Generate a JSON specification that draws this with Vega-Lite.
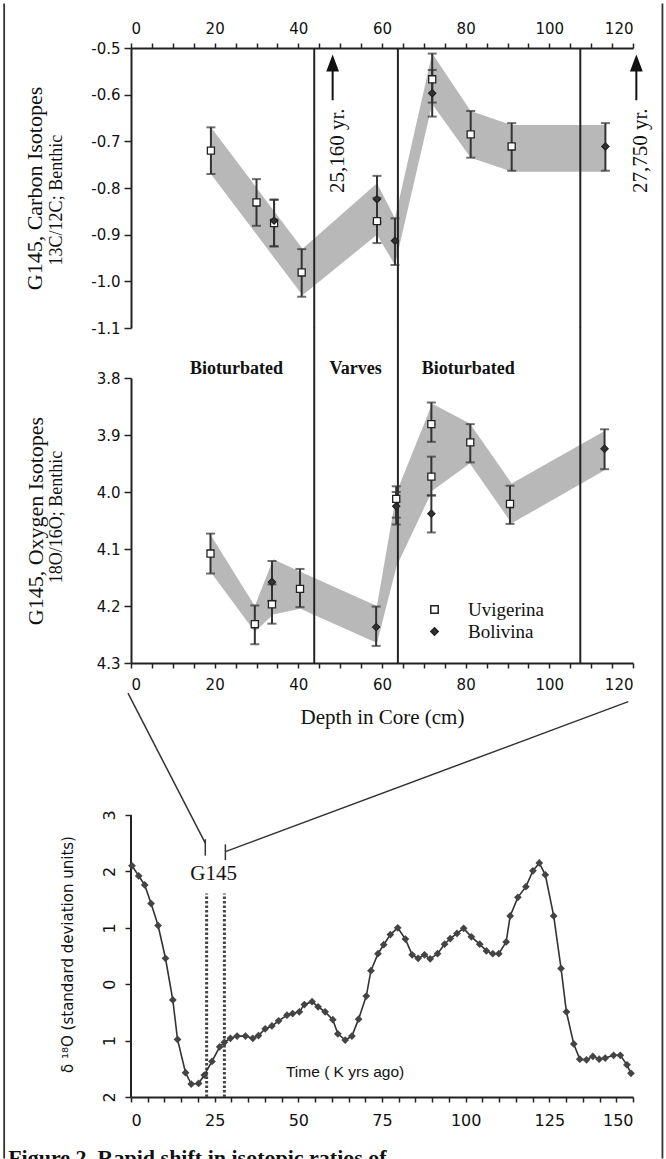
{
  "$schema": "https://vega.github.io/schema/vega-lite/v6.json",
  "padding": {"left": 3, "top": 2, "right": 0, "bottom": 0},
  "background": "white",
  "bounds": "flush",
  "spacing": 50,
  "resolve": {"legend": {"shape": "independent", "fill": "independent"}},
  "config": {
    "view": {"stroke": null},
    "axis": {"domainColor": "#222", "domainWidth": 2, "tickColor": "#222", "tickWidth": 1.5, "labelFont": "DejaVu Sans", "labelFontSize": 15, "labelColor": "#111", "titleFont": "Liberation Serif", "titleColor": "#111", "titleFontWeight": "normal", "grid": false},
    "text": {"color": "#111"}
  },
  "datasets": {
    "carbon": [
      {"d": 19.1, "v": -0.72, "lo": -0.77, "hi": -0.67, "sp": "Uvigerina"},
      {"d": 30.0, "v": -0.831, "lo": -0.881, "hi": -0.781, "sp": "Uvigerina"},
      {"d": 34.2, "v": -0.875, "lo": -0.925, "hi": -0.825, "sp": "Uvigerina"},
      {"d": 34.2, "v": -0.87, "lo": -0.925, "hi": -0.825, "sp": "Bolivina"},
      {"d": 40.8, "v": -0.981, "lo": -1.033, "hi": -0.931, "sp": "Uvigerina"},
      {"d": 58.8, "v": -0.824, "lo": -0.874, "hi": -0.774, "sp": "Bolivina"},
      {"d": 58.8, "v": -0.871, "lo": -0.918, "hi": -0.821, "sp": "Uvigerina"},
      {"d": 63.1, "v": -0.913, "lo": -0.965, "hi": -0.865, "sp": "Bolivina"},
      {"d": 72.0, "v": -0.567, "lo": -0.617, "hi": -0.512, "sp": "Uvigerina"},
      {"d": 72.0, "v": -0.597, "lo": -0.647, "hi": -0.547, "sp": "Bolivina"},
      {"d": 81.2, "v": -0.685, "lo": -0.735, "hi": -0.635, "sp": "Uvigerina"},
      {"d": 91.0, "v": -0.711, "lo": -0.763, "hi": -0.661, "sp": "Uvigerina"},
      {"d": 113.4, "v": -0.711, "lo": -0.763, "hi": -0.661, "sp": "Bolivina"}
    ],
    "cband": [
      {"d": 19.1, "top": -0.67, "bot": -0.77},
      {"d": 41.0, "top": -0.93, "bot": -1.03},
      {"d": 58.8, "top": -0.79, "bot": -0.9},
      {"d": 63.1, "top": -0.865, "bot": -0.965},
      {"d": 72.0, "top": -0.512, "bot": -0.62},
      {"d": 81.2, "top": -0.635, "bot": -0.735},
      {"d": 91.0, "top": -0.665, "bot": -0.765},
      {"d": 113.4, "top": -0.665, "bot": -0.765}
    ],
    "oxygen": [
      {"d": 19.0, "v": 4.108, "lo": 4.073, "hi": 4.143, "sp": "Uvigerina"},
      {"d": 29.6, "v": 4.232, "lo": 4.199, "hi": 4.267, "sp": "Uvigerina"},
      {"d": 33.7, "v": 4.158, "lo": 4.121, "hi": 4.191, "sp": "Bolivina"},
      {"d": 33.7, "v": 4.197, "lo": 4.162, "hi": 4.231, "sp": "Uvigerina"},
      {"d": 40.4, "v": 4.17, "lo": 4.135, "hi": 4.202, "sp": "Uvigerina"},
      {"d": 58.6, "v": 4.237, "lo": 4.201, "hi": 4.27, "sp": "Bolivina"},
      {"d": 63.4, "v": 4.012, "lo": 3.99, "hi": 4.045, "sp": "Uvigerina"},
      {"d": 63.4, "v": 4.025, "lo": 4.0, "hi": 4.057, "sp": "Bolivina"},
      {"d": 71.8, "v": 3.881, "lo": 3.843, "hi": 3.912, "sp": "Uvigerina"},
      {"d": 71.8, "v": 3.973, "lo": 3.938, "hi": 4.006, "sp": "Uvigerina"},
      {"d": 71.8, "v": 4.038, "lo": 4.006, "hi": 4.071, "sp": "Bolivina"},
      {"d": 81.1, "v": 3.913, "lo": 3.881, "hi": 3.948, "sp": "Uvigerina"},
      {"d": 90.6, "v": 4.021, "lo": 3.989, "hi": 4.056, "sp": "Uvigerina"},
      {"d": 113.2, "v": 3.924, "lo": 3.89, "hi": 3.96, "sp": "Bolivina"}
    ],
    "oband": [
      {"d": 19.0, "top": 4.075, "bot": 4.14},
      {"d": 29.6, "top": 4.2, "bot": 4.245},
      {"d": 34.0, "top": 4.118, "bot": 4.215},
      {"d": 40.5, "top": 4.14, "bot": 4.205},
      {"d": 58.8, "top": 4.2, "bot": 4.265},
      {"d": 63.5, "top": 4.0, "bot": 4.13},
      {"d": 72.0, "top": 3.845, "bot": 3.998},
      {"d": 81.0, "top": 3.88, "bot": 3.95},
      {"d": 91.0, "top": 3.985, "bot": 4.055},
      {"d": 113.2, "top": 3.893, "bot": 3.962}
    ],
    "seps": [{"d": 43.8}, {"d": 63.8}, {"d": 107.4}],
    "arrows": [
      {"d": 48.2, "y1": -0.612, "y2": -0.545, "yh": -0.532, "lab": "25,160 yr.", "dl": 49.4, "yl": -0.72},
      {"d": 120.8, "y1": -0.612, "y2": -0.545, "yh": -0.532, "lab": "27,750 yr.", "dl": 121.9, "yl": -0.72}
    ],
    "zones": [
      {"d": 25.2, "v": 3.784, "lab": "Bioturbated"},
      {"d": 53.7, "v": 3.784, "lab": "Varves"},
      {"d": 80.6, "v": 3.784, "lab": "Bioturbated"}
    ],
    "curve": [
      {"t": 0.3, "v": 2.1}, {"t": 2.3, "v": 1.92}, {"t": 4.1, "v": 1.76}, {"t": 6.0, "v": 1.43},
      {"t": 8.1, "v": 1.04}, {"t": 10.3, "v": 0.46}, {"t": 12.5, "v": -0.28}, {"t": 13.9, "v": -0.98},
      {"t": 16.3, "v": -1.57}, {"t": 18.0, "v": -1.77}, {"t": 20.2, "v": -1.76}, {"t": 21.9, "v": -1.61},
      {"t": 24.2, "v": -1.37}, {"t": 26.5, "v": -1.11}, {"t": 27.9, "v": -1.03}, {"t": 29.7, "v": -0.96},
      {"t": 31.7, "v": -0.92}, {"t": 34.2, "v": -0.92}, {"t": 36.4, "v": -0.96}, {"t": 38.1, "v": -0.91},
      {"t": 40.1, "v": -0.79}, {"t": 42.1, "v": -0.74}, {"t": 44.1, "v": -0.65}, {"t": 46.6, "v": -0.55},
      {"t": 48.3, "v": -0.52}, {"t": 50.3, "v": -0.49}, {"t": 51.8, "v": -0.36}, {"t": 54.1, "v": -0.31},
      {"t": 55.9, "v": -0.4}, {"t": 58.0, "v": -0.49}, {"t": 60.3, "v": -0.63}, {"t": 61.8, "v": -0.88},
      {"t": 64.0, "v": -0.99}, {"t": 66.0, "v": -0.92}, {"t": 68.0, "v": -0.62}, {"t": 70.3, "v": -0.21},
      {"t": 71.7, "v": 0.24}, {"t": 73.8, "v": 0.54}, {"t": 75.5, "v": 0.7}, {"t": 77.5, "v": 0.88},
      {"t": 79.7, "v": 1.0}, {"t": 82.0, "v": 0.8}, {"t": 84.0, "v": 0.52}, {"t": 85.8, "v": 0.46},
      {"t": 87.7, "v": 0.52}, {"t": 89.4, "v": 0.45}, {"t": 91.6, "v": 0.54}, {"t": 93.7, "v": 0.71},
      {"t": 95.4, "v": 0.81}, {"t": 97.4, "v": 0.9}, {"t": 99.4, "v": 0.99}, {"t": 101.7, "v": 0.84},
      {"t": 104.2, "v": 0.71}, {"t": 106.2, "v": 0.59}, {"t": 108.1, "v": 0.54}, {"t": 109.9, "v": 0.54},
      {"t": 112.1, "v": 0.75}, {"t": 113.3, "v": 1.21}, {"t": 115.6, "v": 1.54}, {"t": 118.0, "v": 1.73},
      {"t": 120.1, "v": 2.01}, {"t": 122.0, "v": 2.15}, {"t": 123.8, "v": 1.94}, {"t": 126.3, "v": 1.21},
      {"t": 128.5, "v": 0.28}, {"t": 130.1, "v": -0.49}, {"t": 132.3, "v": -1.06}, {"t": 134.1, "v": -1.33},
      {"t": 136.1, "v": -1.34}, {"t": 138.0, "v": -1.28}, {"t": 139.9, "v": -1.33}, {"t": 141.7, "v": -1.31},
      {"t": 144.2, "v": -1.26}, {"t": 146.2, "v": -1.26}, {"t": 148.2, "v": -1.43}, {"t": 149.4, "v": -1.58}
    ],
    "dots": [{"t": 22.6}, {"t": 27.9}],
    "conn": [
      {"id": "L", "o": 0, "t": -0.9, "v": 5.16},
      {"id": "L", "o": 1, "t": 22.2, "v": 2.5},
      {"id": "R", "o": 0, "t": 148.6, "v": 5.01},
      {"id": "R", "o": 1, "t": 28.2, "v": 2.35}
    ],
    "connticks": [
      {"t": 22.2, "v1": 2.57, "v2": 2.28},
      {"t": 28.2, "v1": 2.48, "v2": 2.2}
    ],
    "frameV": [{"t": -37.9}, {"t": 158.8}],
    "frameH": [{"v": 17.39}, {"v": -2.851}]
  },
  "vconcat": [
    {
      "width": 502,
      "height": 280,
      "encoding": {
        "x": {"field": "d", "type": "quantitative",
          "scale": {"domain": [0, 120], "nice": false, "zero": false},
          "axis": {"orient": "top", "title": null, "values": [0,5,10,15,20,25,30,35,40,45,50,55,60,65,70,75,80,85,90,95,100,105,110,115,120],
            "labelExpr": "datum.value % 20 === 0 ? datum.label : ''", "tickSize": 5, "labelPadding": 7}}
      },
      "layer": [
        {
          "data": {"name": "cband"},
          "mark": {"type": "area", "color": "#888888", "opacity": 0.6},
          "encoding": {
            "y": {"field": "top", "type": "quantitative",
              "scale": {"domain": [-1.1, -0.5], "nice": false, "zero": false},
              "axis": {"title": "G145, Carbon Isotopes", "titleFontSize": 22, "titlePadding": 44,
                "values": [-1.1,-1.05,-1,-0.95,-0.9,-0.85,-0.8,-0.75,-0.7,-0.65,-0.6,-0.55,-0.5],
                "labelExpr": "round(abs(datum.value)*100) % 10 === 0 ? '-' + format(abs(datum.value), '.1f') : ''",
                "tickSize": 7, "labelPadding": 4}},
            "y2": {"field": "bot"}
          }
        },
        {
          "data": {"name": "seps"},
          "mark": {"type": "rule", "color": "#222", "strokeWidth": 2},
          "encoding": {}
        },
        {
          "data": {"name": "carbon"},
          "mark": {"type": "rule", "color": "#333", "strokeWidth": 2},
          "encoding": {"y": {"field": "lo", "type": "quantitative"}, "y2": {"field": "hi"}}
        },
        {
          "data": {"name": "carbon"},
          "mark": {"type": "tick", "orient": "horizontal", "color": "#333", "size": 9, "thickness": 2},
          "encoding": {"y": {"field": "lo", "type": "quantitative"}}
        },
        {
          "data": {"name": "carbon"},
          "mark": {"type": "tick", "orient": "horizontal", "color": "#333", "size": 9, "thickness": 2},
          "encoding": {"y": {"field": "hi", "type": "quantitative"}}
        },
        {
          "data": {"name": "carbon"},
          "mark": {"type": "point", "filled": true, "stroke": "#222", "strokeWidth": 1.3, "size": 50, "opacity": 1},
          "encoding": {
            "y": {"field": "v", "type": "quantitative"},
            "shape": {"field": "sp", "type": "nominal", "scale": {"domain": ["Uvigerina", "Bolivina"], "range": ["square", "diamond"]}, "legend": null},
            "fill": {"field": "sp", "type": "nominal", "scale": {"domain": ["Uvigerina", "Bolivina"], "range": ["#ffffff", "#333333"]}, "legend": null}
          }
        },
        {
          "data": {"name": "arrows"},
          "mark": {"type": "rule", "color": "#111", "strokeWidth": 2},
          "encoding": {"y": {"field": "y1", "type": "quantitative"}, "y2": {"field": "y2"}}
        },
        {
          "data": {"name": "arrows"},
          "mark": {"type": "point", "shape": "M-0.75,1L0,-1L0.75,1Z", "filled": true, "color": "#111", "size": 290, "opacity": 1},
          "encoding": {"y": {"field": "yh", "type": "quantitative"}}
        },
        {
          "data": {"name": "arrows"},
          "mark": {"type": "text", "angle": 270, "align": "center", "baseline": "middle", "font": "Liberation Serif", "fontSize": 21},
          "encoding": {"x": {"field": "dl", "type": "quantitative"}, "y": {"field": "yl", "type": "quantitative"}, "text": {"field": "lab"}}
        },
        {
          "data": {"values": [{"d": -17.7, "v": -0.826, "lab": "13C/12C; Benthic"}]},
          "mark": {"type": "text", "angle": 270, "align": "center", "baseline": "middle", "font": "Liberation Serif", "fontSize": 18},
          "encoding": {"y": {"field": "v", "type": "quantitative"}, "text": {"field": "lab"}}
        }
      ]
    },
    {
      "width": 502,
      "height": 285,
      "encoding": {
        "x": {"field": "d", "type": "quantitative",
          "scale": {"domain": [0, 120], "nice": false, "zero": false},
          "axis": {"orient": "bottom", "title": "Depth in Core (cm)", "titleFontSize": 21, "titlePadding": 14,
            "values": [0,5,10,15,20,25,30,35,40,45,50,55,60,65,70,75,80,85,90,95,100,105,110,115,120],
            "labelExpr": "datum.value % 20 === 0 ? datum.label : ''", "tickSize": 5, "labelPadding": 9}}
      },
      "layer": [
        {
          "data": {"name": "oband"},
          "mark": {"type": "area", "color": "#888888", "opacity": 0.6},
          "encoding": {
            "y": {"field": "top", "type": "quantitative",
              "scale": {"domain": [3.8, 4.3], "reverse": true, "nice": false, "zero": false},
              "axis": {"title": "G145, Oxygen Isotopes", "titleFontSize": 22, "titlePadding": 49,
                "values": [3.8,3.85,3.9,3.95,4.0,4.05,4.1,4.15,4.2,4.25,4.3],
                "labelExpr": "round(datum.value*100) % 10 === 0 ? format(datum.value, '.1f') : ''",
                "tickSize": 7, "labelPadding": 4}},
            "y2": {"field": "bot"}
          }
        },
        {
          "data": {"name": "seps"},
          "mark": {"type": "rule", "color": "#222", "strokeWidth": 2},
          "encoding": {"y": {"datum": 3.712, "type": "quantitative"}, "y2": {"datum": 4.3}}
        },
        {
          "data": {"name": "oxygen"},
          "mark": {"type": "rule", "color": "#333", "strokeWidth": 2},
          "encoding": {"y": {"field": "lo", "type": "quantitative"}, "y2": {"field": "hi"}}
        },
        {
          "data": {"name": "oxygen"},
          "mark": {"type": "tick", "orient": "horizontal", "color": "#333", "size": 9, "thickness": 2},
          "encoding": {"y": {"field": "lo", "type": "quantitative"}}
        },
        {
          "data": {"name": "oxygen"},
          "mark": {"type": "tick", "orient": "horizontal", "color": "#333", "size": 9, "thickness": 2},
          "encoding": {"y": {"field": "hi", "type": "quantitative"}}
        },
        {
          "data": {"name": "oxygen"},
          "mark": {"type": "point", "filled": true, "stroke": "#222", "strokeWidth": 1.3, "size": 50, "opacity": 1},
          "encoding": {
            "y": {"field": "v", "type": "quantitative"},
            "shape": {"field": "sp", "type": "nominal", "scale": {"domain": ["Uvigerina", "Bolivina"], "range": ["square", "diamond"]},
              "legend": {"orient": "none", "legendX": 294, "legendY": 222, "title": null, "labelFont": "Liberation Serif", "labelFontSize": 19, "labelColor": "#111", "symbolSize": 55, "labelOffset": 24, "rowPadding": 2, "padding": 0,
                "encode": {"symbols": {"update": {"stroke": {"value": "#222"}, "strokeWidth": {"value": 1.3}, "opacity": {"value": 1}}}}}},
            "fill": {"field": "sp", "type": "nominal", "scale": {"domain": ["Uvigerina", "Bolivina"], "range": ["#ffffff", "#333333"]},
              "legend": {"orient": "none", "legendX": 294, "legendY": 222, "title": null, "labelFont": "Liberation Serif", "labelFontSize": 19, "labelColor": "#111", "symbolSize": 55, "labelOffset": 24, "rowPadding": 2, "padding": 0,
                "encode": {"symbols": {"update": {"stroke": {"value": "#222"}, "strokeWidth": {"value": 1.3}, "opacity": {"value": 1}}}}}}
          }
        },
        {
          "data": {"name": "zones"},
          "mark": {"type": "text", "align": "center", "baseline": "middle", "font": "Liberation Serif", "fontSize": 18, "fontWeight": "bold"},
          "encoding": {"y": {"field": "v", "type": "quantitative"}, "text": {"field": "lab"}}
        },
        {
          "data": {"values": [{"d": -17.7, "v": 4.044, "lab": "18O/16O; Benthic"}]},
          "mark": {"type": "text", "angle": 270, "align": "center", "baseline": "middle", "font": "Liberation Serif", "fontSize": 18},
          "encoding": {"y": {"field": "v", "type": "quantitative"}, "text": {"field": "lab"}}
        }
      ]
    },
    {
      "width": 502,
      "height": 384,
      "encoding": {
        "x": {"field": "t", "type": "quantitative",
          "scale": {"domain": [0, 150], "nice": false, "zero": false},
          "axis": {"orient": "bottom", "title": null,
            "values": [0,5,10,15,20,25,30,35,40,45,50,55,60,65,70,75,80,85,90,95,100,105,110,115,120,125,130,135,140,145,150],
            "labelExpr": "datum.value % 25 === 0 ? datum.label : ''", "tickSize": 5, "labelPadding": 10, "labelFontSize": 16}}
      },
      "layer": [
        {
          "data": {"name": "dots"},
          "mark": {"type": "rule", "color": "#444", "strokeWidth": 3, "strokeDash": [2.5, 2]},
          "encoding": {
            "y": {"datum": -2, "type": "quantitative",
              "scale": {"domain": [-2, 4.8085], "nice": false, "zero": false},
              "axis": {"title": "δ ¹⁸O (standard deviation units)", "titleFont": "DejaVu Sans", "titleFontSize": 15, "titlePadding": 26, "titleY": 241,
                "domain": false,
                "values": [-2,-1.5,-1,-0.5,0,0.5,1,1.5,2,2.5,3],
                "labelExpr": "datum.value % 1 === 0 ? format(abs(datum.value), 'd') : ''",
                "labelAngle": -90, "labelAlign": "center", "labelBaseline": "bottom", "labelFontSize": 16,
                "tickSize": 6, "labelPadding": 8}},
            "y2": {"datum": 1.61}
          }
        },
        {
          "data": {"values": [{"t": 0}]},
          "mark": {"type": "rule", "color": "#222", "strokeWidth": 2},
          "encoding": {"y": {"datum": -2, "type": "quantitative"}, "y2": {"datum": 3}}
        },
        {
          "data": {"name": "curve"},
          "mark": {"type": "line", "color": "#333", "strokeWidth": 1.6},
          "encoding": {"y": {"field": "v", "type": "quantitative"}}
        },
        {
          "data": {"name": "curve"},
          "mark": {"type": "point", "shape": "diamond", "filled": true, "color": "#444", "size": 60, "opacity": 1},
          "encoding": {"y": {"field": "v", "type": "quantitative"}}
        },
        {
          "data": {"name": "conn"},
          "mark": {"type": "line", "color": "#333", "strokeWidth": 1.5},
          "encoding": {"y": {"field": "v", "type": "quantitative"}, "detail": {"field": "id"}, "order": {"field": "o"}}
        },
        {
          "data": {"name": "connticks"},
          "mark": {"type": "rule", "color": "#333", "strokeWidth": 1.5},
          "encoding": {"y": {"field": "v1", "type": "quantitative"}, "y2": {"field": "v2"}}
        },
        {
          "data": {"values": [{"t": 24.7, "v": 1.95, "lab": "G145"}]},
          "mark": {"type": "text", "align": "center", "baseline": "middle", "font": "Liberation Serif", "fontSize": 21},
          "encoding": {"y": {"field": "v", "type": "quantitative"}, "text": {"field": "lab"}}
        },
        {
          "data": {"values": [{"t": 46.3, "v": -1.56, "lab": "Time ( K yrs ago)"}]},
          "mark": {"type": "text", "align": "left", "baseline": "middle", "font": "Liberation Sans", "fontSize": 15.5},
          "encoding": {"y": {"field": "v", "type": "quantitative"}, "text": {"field": "lab"}}
        },
        {
          "data": {"name": "frameV"},
          "mark": {"type": "rule", "color": "#333", "strokeWidth": 1.8},
          "encoding": {"y": {"datum": 17.39, "type": "quantitative"}, "y2": {"datum": -3.09}}
        },
        {
          "data": {"name": "frameH"},
          "mark": {"type": "rule", "color": "#333", "strokeWidth": 1.8},
          "encoding": {"x": {"datum": -37.9, "type": "quantitative"}, "x2": {"datum": 158.8}, "y": {"field": "v", "type": "quantitative"}}
        },
        {
          "data": {"values": [{"t": -36.7, "v": -2.904, "lab": "Figure 2.  Rapid shift in isotopic ratios of"}]},
          "mark": {"type": "text", "align": "left", "baseline": "top", "font": "Liberation Serif", "fontSize": 22, "fontWeight": "bold"},
          "encoding": {"y": {"field": "v", "type": "quantitative"}, "text": {"field": "lab"}}
        }
      ]
    }
  ]
}
